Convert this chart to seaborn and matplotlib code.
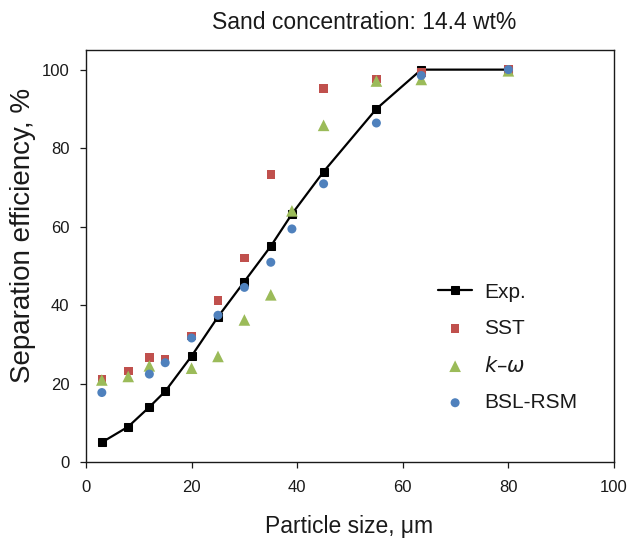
import matplotlib
matplotlib.use('Agg')
import matplotlib.pyplot as plt
import seaborn as sns
import pandas as pd

# Particle sizes (um)
size_exp = [3, 8, 12, 15, 20, 25, 30, 35, 39, 45, 55, 63.5, 80]
eff_exp = [5, 9, 14, 18, 27, 37, 46, 55, 63.2, 74, 90, 100, 100]

size_sst = [3, 8, 12, 15, 20, 25, 30, 35, 45, 55, 63.5, 80]
eff_sst = [21.2, 23.2, 26.7, 26.1, 32.1, 41.1, 52, 73.3, 95.2, 97.6, 99.3, 100]

size_kw = [3, 8, 12, 20, 25, 30, 35, 39, 45, 55, 63.5, 80]
eff_kw = [20.9, 21.8, 24.5, 23.9, 26.9, 36.2, 42.6, 64, 85.8, 97.1, 97.5, 99.7]

size_bsl = [3, 12, 15, 20, 25, 30, 35, 39, 45, 55, 63.5, 80]
eff_bsl = [17.7, 22.4, 25.3, 31.6, 37.4, 44.5, 50.9, 59.4, 70.9, 86.4, 98.5, 100]

sns.set_style('ticks')
plt.rcParams['font.family'] = ['Liberation Sans', 'DejaVu Sans']
plt.rcParams['text.color'] = '#1a1a1a'
plt.rcParams['axes.labelcolor'] = '#1a1a1a'

fig = plt.figure(figsize=(6.3, 5.39), dpi=100)
ax = fig.add_axes([0.1365, 0.1429, 0.8381, 0.7643])

df_exp = pd.DataFrame({'x': size_exp, 'y': eff_exp})
sns.lineplot(data=df_exp, x='x', y='y', ax=ax, color='black', lw=1.6,
             marker='s', markersize=6, markeredgecolor='black', label='Exp.', zorder=3)
sns.scatterplot(x=size_sst, y=eff_sst, ax=ax, color='#C0504D', marker='s', s=38,
                edgecolor='none', label='SST', zorder=4)
sns.scatterplot(x=size_kw, y=eff_kw, ax=ax, color='#9BBB59', marker='^', s=70,
                edgecolor='none', label='$k$\u2013$\\omega$', zorder=4)
sns.scatterplot(x=size_bsl, y=eff_bsl, ax=ax, color='#4F81BD', marker='o', s=42,
                edgecolor='none', label='BSL-RSM', zorder=5)

ax.set_xlim(0, 100)
ax.set_ylim(0, 105)
ax.set_xticks(range(0, 101, 20))
ax.set_yticks(range(0, 101, 20))
ax.tick_params(direction='out', length=4, labelsize=12, width=0.9,
               colors='#1a1a1a')
ax.tick_params(axis='x', pad=9)
ax.tick_params(axis='y', pad=8)
for sp in ax.spines.values():
    sp.set_linewidth(1.0)
    sp.set_color('#1a1a1a')
    sp.set_visible(True)

ax.set_xlabel('Particle size, \u03bcm', fontsize=16.5)
ax.xaxis.set_label_coords(0.498, -0.172)
ax.xaxis.label.set_verticalalignment('baseline')
ax.set_ylabel('Separation efficiency, %', fontsize=20)
ax.yaxis.set_label_coords(-0.12, 0.549)
ax.yaxis.label.set_verticalalignment('center')
ax.text(0.527, 1.068, 'Sand concentration: 14.4 wt%', transform=ax.transAxes,
        ha='center', va='center', fontsize=16.5)

leg = ax.legend(loc='center left', bbox_to_anchor=(0.632, 0.278), frameon=False,
                fontsize=15, labelspacing=0.84, handlelength=1.6, handletextpad=0.6)

fig.savefig('out.png', dpi=100)
